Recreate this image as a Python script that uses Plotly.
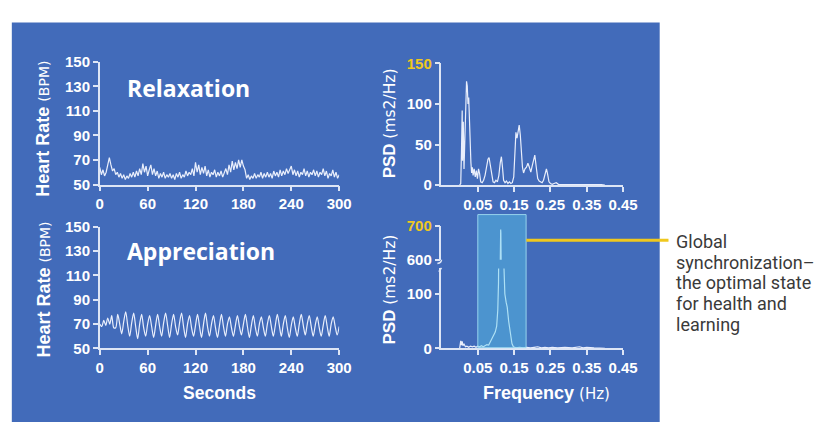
import plotly.graph_objects as go

W, H = 833, 432


def fx(p):
    return p / W


def fy(p):
    return 1 - p / H


# ---------------- data ----------------
hr_step_s = 2
relax_hr = [
    64, 58, 62, 57, 60, 66,
    72, 66, 61, 63, 58,
    60, 56, 59, 55, 58, 54, 57, 55, 59, 56,
    60, 56, 61, 57, 63, 58,
    67, 60, 65, 57, 62, 66, 58,
    63, 57, 61, 55, 59, 56, 60, 55, 58, 56, 59, 55,
    58, 54, 59, 56, 60, 55, 58, 56, 61, 57, 60, 58, 63, 57,
    68, 60, 66, 58, 64, 59, 65, 57, 62, 56, 60,
    58, 62, 56, 60, 57, 61, 56, 59, 63, 58,
    66, 60, 69, 62, 68, 63, 70, 64, 70, 65, 62,
    55, 58, 54, 57, 55, 59, 55, 58, 56, 60, 55, 59, 56, 60,
    56, 59, 55, 61, 57, 60, 56, 62, 57, 61, 58, 63, 59, 62, 65,
    58, 62, 57, 61, 56, 60, 58, 63, 57, 61, 56, 60, 58, 62, 57,
    61, 56, 60, 58, 63, 57, 61, 55, 59, 57, 62, 56, 60, 55, 58,
]
relax_time = [i * hr_step_s for i in range(len(relax_hr))]

appr_step_s = 2.5
appr_hr = [
    70, 68, 73, 69, 75, 70, 77, 67,
    67, 78, 70, 62, 72, 80, 69, 60,
    71, 79, 68, 58, 70, 78, 67, 60,
    70, 77, 68, 59, 69, 78, 68, 60,
    71, 79, 69, 59, 70, 78, 68, 61,
    71, 79, 68, 59, 70, 77, 67, 60,
    69, 78, 68, 59, 70, 79, 68, 60,
    70, 77, 67, 59, 69, 78, 68, 60,
    70, 76, 67, 60, 69, 77, 68, 61,
    70, 78, 68, 59, 69, 77, 67, 60,
    70, 76, 67, 60, 70, 77, 68, 60,
    69, 78, 69, 60, 70, 77, 67, 59,
    69, 76, 67, 60, 70, 78, 69, 61,
    70, 77, 68, 60, 69, 76, 67, 60,
    69, 77, 68, 60, 70, 76, 68, 61,
    68,
]
appr_time = [i * appr_step_s for i in range(len(appr_hr))]

freq_relax = [
    0.000, 0.003, 0.005, 0.007, 0.008, 0.010, 0.012, 0.014, 0.017, 0.019,
    0.021, 0.023, 0.025, 0.027, 0.029, 0.031, 0.033, 0.035, 0.037, 0.040,
    0.043, 0.046, 0.049, 0.052, 0.055, 0.058, 0.062, 0.066, 0.070, 0.074,
    0.078, 0.081, 0.084, 0.088, 0.092, 0.096, 0.100, 0.104, 0.108, 0.112,
    0.115, 0.118, 0.121, 0.125, 0.129, 0.133, 0.137, 0.141, 0.145, 0.149,
    0.152, 0.155, 0.158, 0.161, 0.164, 0.167, 0.170, 0.173, 0.176, 0.180,
    0.184, 0.188, 0.192, 0.196, 0.200, 0.204, 0.207, 0.211, 0.215, 0.219,
    0.223, 0.227, 0.231, 0.235, 0.239, 0.242, 0.246, 0.250, 0.255, 0.260,
    0.266, 0.272, 0.280, 0.290, 0.300, 0.315, 0.330, 0.345, 0.360, 0.375,
    0.390, 0.400,
]
psd_relax = [
    0, 2, 40, 92, 30, 78, 20, 60, 110, 128,
    122, 100, 108, 70, 45, 28, 15, 22, 12, 20,
    10, 18, 8, 20, 14, 4, 3, 6, 12, 22,
    32, 34, 25, 12, 4, 3, 6, 4, 12, 28,
    35, 22, 6, 3, 5, 2, 4, 2, 3, 10,
    45, 65, 58, 70, 74, 62, 40, 22, 15, 20,
    22, 27, 22, 16, 24, 33, 37, 22, 8, 5,
    4, 3, 6, 12, 20, 14, 4, 2, 1, 2,
    3, 1, 1, 0.5, 1, 0.5, 1, 0.5, 0.5, 0.5,
    0.5, 0,
]

freq_appr = [
    0.000, 0.003, 0.005, 0.007, 0.009, 0.012, 0.016, 0.020, 0.025, 0.030,
    0.035, 0.040, 0.045, 0.050, 0.055, 0.060, 0.065, 0.070, 0.075, 0.080,
    0.085, 0.090, 0.094, 0.098, 0.102, 0.105, 0.107, 0.109, 0.111, 0.113,
    0.1135, 0.116, 0.119, 0.1215, 0.1245, 0.128, 0.131, 0.135, 0.140, 0.144,
    0.148, 0.155, 0.165, 0.175, 0.185, 0.195, 0.205, 0.215, 0.225, 0.235,
    0.245, 0.255, 0.270, 0.290, 0.310, 0.330, 0.340, 0.350, 0.370, 0.390,
    0.400,
]
psd_appr = [
    0, 14, 6, 13, 5, 8, 3, 4, 2, 4,
    3, 4, 2, 4, 3, 5, 3, 5, 7, 6,
    12, 18, 25, 30, 41, 70, 120, 260, 520, 690,
    680, 420, 230, 160, 100, 85, 76, 50, 29, 9,
    3, 1, 2, 1, 2, 1, 2, 3, 1, 2,
    1, 2, 1, 2, 1, 3, 1, 2, 1, 1,
    0,
]

hr_ticks = [50, 70, 90, 110, 130, 150]
sec_ticks = [0, 60, 120, 180, 240, 300]
freq_ticks = [0.05, 0.15, 0.25, 0.35, 0.45]
freq_ticktext = ["0.05", "0.15", "0.25", "0.35", "0.45"]
psd_relax_ticks = [0, 50, 100, 150]
psd_appr_low_ticks = [0, 100]
psd_appr_high_ticks = [600, 700]
highlight_band = [0.05, 0.183]

# ---------------- styling ----------------
BG = "#426bba"
AX = "#dde5f5"
LINE = "rgba(242,246,255,0.95)"
YEL = "#f0c81e"
TFONT = "Liberation Sans, Arial, sans-serif"
SUBFONT = "DejaVu Sans, sans-serif"
tickfont = dict(family=TFONT, size=15, color="white", weight="bold")

fig = go.Figure()
fig.add_trace(go.Scatter(x=relax_time, y=relax_hr, xaxis="x", yaxis="y", mode="lines",
                         line=dict(color=LINE, width=1.2), hoverinfo="skip"))
fig.add_trace(go.Scatter(x=appr_time, y=appr_hr, xaxis="x2", yaxis="y2", mode="lines",
                         line=dict(color=LINE, width=1.2, shape="spline", smoothing=0.8),
                         hoverinfo="skip"))
fig.add_trace(go.Scatter(x=freq_relax, y=psd_relax, xaxis="x3", yaxis="y3", mode="lines",
                         line=dict(color=LINE, width=1.2), hoverinfo="skip"))
fig.add_trace(go.Scatter(x=freq_appr, y=psd_appr, xaxis="x4", yaxis="y4", mode="lines",
                         line=dict(color=LINE, width=1.2), hoverinfo="skip"))
fig.add_trace(go.Scatter(x=freq_appr, y=psd_appr, xaxis="x5", yaxis="y5", mode="lines",
                         line=dict(color=LINE, width=1.2), hoverinfo="skip"))

base = dict(showgrid=False, zeroline=False, showline=True, linecolor=AX, linewidth=1.5,
            ticks="outside", ticklen=5, tickwidth=1.5, tickcolor=AX, tickfont=tickfont,
            fixedrange=True)

hr_xdom = [fx(98), fx(343)]
psd_xdom = [fx(447.7), fx(633.5)]

layout_axes = dict(
    xaxis=dict(base, domain=hr_xdom, range=[0, 300], tickvals=sec_ticks, anchor="y"),
    yaxis=dict(base, domain=[fy(182.7), fy(55)], range=[50, 150], tickvals=hr_ticks, anchor="x"),
    xaxis2=dict(base, domain=hr_xdom, range=[0, 300], tickvals=sec_ticks, anchor="y2"),
    yaxis2=dict(base, domain=[fy(353.3), fy(226.7)], range=[50, 150], tickvals=hr_ticks, anchor="x2"),
    xaxis3=dict(base, domain=psd_xdom, range=[-0.05, 0.45], tickvals=freq_ticks,
                ticktext=freq_ticktext, anchor="y3"),
    yaxis3=dict(base, domain=[fy(183.3), fy(56.7)], range=[0, 150], tickvals=psd_relax_ticks,
                ticktext=["0", "50", "100", f'<span style="color:{YEL}">150</span>'], anchor="x3"),
    xaxis4=dict(base, domain=psd_xdom, range=[-0.05, 0.45], tickvals=freq_ticks,
                ticktext=freq_ticktext, anchor="y4"),
    yaxis4=dict(base, domain=[fy(353.3), fy(270)], range=[0, 147.2], tickvals=psd_appr_low_ticks,
                anchor="x4"),
    xaxis5=dict(domain=psd_xdom, range=[-0.05, 0.45], visible=False, anchor="y5", fixedrange=True),
    yaxis5=dict(base, domain=[fy(261), fy(226)], range=[600, 700], tickvals=psd_appr_high_ticks,
                ticktext=["600", f'<span style="color:{YEL}">700</span>'], anchor="x5"),
)

shapes = [
    dict(type="rect", xref="paper", yref="paper", x0=fx(8), x1=fx(671), y0=fy(430), y1=fy(14),
         fillcolor=BG, line=dict(width=0), layer="below"),
    dict(type="rect", xref="x4", yref="paper", x0=highlight_band[0], x1=highlight_band[1],
         y0=fy(352.5), y1=fy(214), fillcolor="rgba(90,205,235,0.42)",
         line=dict(color="rgba(160,220,242,0.9)", width=1), layer="above"),
    dict(type="line", xref="paper", yref="paper", x0=fx(534.5), x1=fx(680), y0=fy(240.7), y1=fy(240.7),
         line=dict(color=YEL, width=3.2)),
    # axis break marks
    dict(type="path", xref="paper", yref="paper",
         path=f"M {fx(447.7)},{fy(261)} Q {fx(447.7)},{fy(264)} {fx(443.5)},{fy(265)}",
         line=dict(color=AX, width=1.5)),
    dict(type="line", xref="paper", yref="paper", x0=fx(445), x1=fx(447.7), y0=fy(273.5), y1=fy(269.5),
         line=dict(color=AX, width=1.5)),
]

ann = []


def vtitle(x, y, bold, normal, bsize=18, nsize=14):
    return dict(xref="paper", yref="paper", x=fx(x), y=fy(y), xanchor="center", yanchor="middle",
                textangle=-90, showarrow=False,
                text=(f"<b>{bold}</b> <span style='font-family:DejaVu Sans;font-size:{nsize}px'>"
                      f"{normal}</span>"),
                font=dict(family=TFONT, size=bsize, color="white"))


ann.append(vtitle(40, 124.5, "Heart Rate", "(BPM)", 18, 14))
ann.append(vtitle(40, 292, "Heart Rate", "(BPM)", 18, 14))
ann.append(vtitle(394, 119, "PSD", "(ms2/Hz)", 17, 15.5))
ann.append(vtitle(394, 292, "PSD", "(ms2/Hz)", 17, 15.5))

for txt, y in [("Relaxation", 82), ("Appreciation", 251.7)]:
    ann.append(dict(xref="paper", yref="paper", x=fx(124), y=fy(y), xanchor="left", yanchor="middle",
                    showarrow=False, text=f"<b>{txt}</b>",
                    font=dict(family="Open Sans, sans-serif", size=23, color="white")))

ann.append(dict(xref="paper", yref="paper", x=fx(221), y=fy(400), xanchor="center", yanchor="middle",
                showarrow=False, text="<b>Seconds</b>",
                font=dict(family=TFONT, size=17.5, color="white")))
ann.append(dict(xref="paper", yref="paper", x=fx(555), y=fy(400), xanchor="center", yanchor="middle",
                showarrow=False,
                text=("<b>Frequency</b> <span style='font-family:DejaVu Sans;font-size:15px'>"
                      "(Hz)</span>"),
                font=dict(family=TFONT, size=18, color="white")))

callout = ["Global", "synchronization–", "the optimal state", "for health and", "learning"]
for i, line in enumerate(callout):
    ann.append(dict(xref="paper", yref="paper", x=fx(686), y=fy(241.8 + 21.7 * i), xanchor="left",
                    yanchor="middle", showarrow=False, text=line,
                    font=dict(family="Roboto, sans-serif", size=18, color="#3a3a3a")))

fig.update_layout(
    width=W, height=H, margin=dict(l=0, r=0, t=0, b=0),
    paper_bgcolor="white", plot_bgcolor="rgba(0,0,0,0)",
    showlegend=False, shapes=shapes, annotations=ann,
    **layout_axes,
)

fig.write_html("out.html", config={"displayModeBar": False},
               post_script="document.body.style.margin='0';document.body.style.overflow='hidden';")
